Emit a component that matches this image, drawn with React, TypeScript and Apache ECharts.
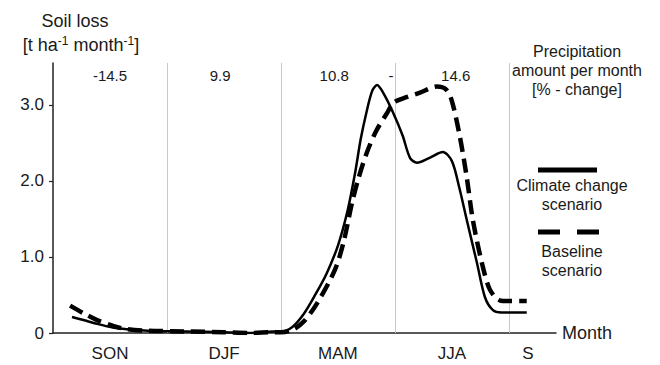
import React, { useEffect, useRef } from "react";
import * as echarts from "echarts";

// months since 1 September
const climateMonths = [0.5, 0.8, 1.16, 1.6, 1.95, 2.5, 3.5, 4.5, 5.2, 5.8, 6.0, 6.3, 6.6, 6.9, 7.2, 7.5, 7.75, 7.95, 8.1, 8.25, 8.4, 8.53, 8.7, 8.95, 9.2, 9.4, 9.58, 9.9, 10.26, 10.5, 10.7, 10.89, 11.16, 11.37, 11.58, 11.8, 12.0, 12.47];
const climateValues = [0.21, 0.17, 0.12, 0.07, 0.05, 0.03, 0.02, 0.01, 0.0, 0.02, 0.02, 0.08, 0.25, 0.5, 0.78, 1.15, 1.6, 2.1, 2.55, 2.9, 3.18, 3.26, 3.15, 2.9, 2.6, 2.3, 2.24, 2.3, 2.38, 2.26, 1.9, 1.49, 0.92, 0.47, 0.3, 0.27, 0.27, 0.27];

const baselineMonths = [0.45, 0.8, 1.16, 1.6, 1.95, 2.5, 3.5, 4.5, 5.2, 5.8, 6.0, 6.3, 6.6, 6.95, 7.42, 7.65, 7.87, 8.05, 8.26, 8.5, 8.79, 8.97, 9.3, 9.66, 10.1, 10.35, 10.5, 10.71, 10.89, 11.05, 11.29, 11.5, 11.76, 12.0, 12.47];
const baselineValues = [0.36, 0.26, 0.17, 0.09, 0.05, 0.03, 0.02, 0.01, 0.0, 0.01, 0.01, 0.04, 0.15, 0.39, 0.83, 1.2, 1.71, 2.05, 2.37, 2.65, 2.89, 3.03, 3.1, 3.16, 3.24, 3.2, 3.05, 2.58, 2.05, 1.49, 0.92, 0.57, 0.43, 0.42, 0.42];

const seasonBoundaries = [3, 6, 9, 12];
const seasonPositions = [1.5, 4.5, 7.5, 10.5, 12.5];
const seasonLabels = ["SON", "DJF", "MAM", "JJA", "S"];
const precipPositions = [1.5, 4.4, 7.4, 8.9, 10.6];
const precipLabels = ["-14.5", "9.9", "10.8", "-", "14.6"];
const yTicks = [0, 1, 2, 3];

const X_MAX = 13.24;
const Y_MAX = 3.55;
const FONT = "'Liberation Sans', Arial, Helvetica, sans-serif";
const TXT = "#1a1a1a";

function lookup(positions: number[], labels: string[], v: number) {
  for (let i = 0; i < positions.length; i++) {
    if (Math.abs(positions[i] - v) < 1e-6) return labels[i];
  }
  return "";
}

export default function App() {
  const ref = useRef<HTMLDivElement>(null);
  useEffect(() => {
    document.body.style.margin = "0";
    if (!ref.current) return;
    const chart = echarts.init(ref.current, undefined, { renderer: "svg" });
    const option: any = {
      animation: false,
      backgroundColor: "#ffffff",
      textStyle: { fontFamily: FONT },
      grid: { left: 53, right: 104, top: 63, bottom: 32, containLabel: false, outerBoundsMode: "none" },
      xAxis: [
        {
          type: "value",
          min: 0,
          max: X_MAX,
          position: "bottom",
          axisLine: { show: true, lineStyle: { color: "#222", width: 1.5 } },
          axisTick: { show: false },
          axisLabel: { show: false },
          splitLine: { show: false },
          name: "Month",
          nameLocation: "end",
          nameGap: 6,
          nameTextStyle: { fontSize: 18, color: TXT, fontFamily: FONT, verticalAlign: "middle" },
        },
        {
          type: "value",
          min: 0,
          max: X_MAX,
          position: "bottom",
          axisLine: { show: false },
          axisTick: { show: false },
          splitLine: { show: false },
          axisLabel: {
            customValues: seasonPositions,
            formatter: (v: number) => lookup(seasonPositions, seasonLabels, v),
            fontSize: 17,
            color: TXT,
            fontFamily: FONT,
            margin: 12,
          },
        },
        {
          type: "value",
          min: 0,
          max: X_MAX,
          position: "top",
          axisLine: { show: false },
          axisTick: { show: false },
          splitLine: { show: false },
          axisLabel: {
            inside: true,
            customValues: precipPositions,
            formatter: (v: number) => lookup(precipPositions, precipLabels, v),
            fontSize: 15,
            color: TXT,
            fontFamily: FONT,
            margin: 5,
          },
        },
      ],
      yAxis: {
        type: "value",
        min: 0,
        max: Y_MAX,
        axisLine: { show: true, lineStyle: { color: "#222", width: 1.5 } },
        axisTick: { show: true, customValues: yTicks, length: 4, lineStyle: { color: "#222", width: 1.2 } },
        splitLine: { show: false },
        axisLabel: {
          customValues: yTicks,
          formatter: (v: number) => (v === 0 ? "0" : v.toFixed(1)),
          fontSize: 17,
          color: TXT,
          fontFamily: FONT,
          margin: 9,
        },
      },
      series: [
        {
          type: "line",
          name: "Climate change scenario",
          xAxisIndex: 0,
          data: climateMonths.map((m, i) => [m, climateValues[i]]),
          showSymbol: false,
          smooth: 0.3,
          lineStyle: { color: "#000", width: 2.5, type: "solid" },
          markLine: {
            silent: true,
            symbol: "none",
            label: { show: false },
            lineStyle: { color: "#c8c8c8", width: 1, type: "solid" },
            data: seasonBoundaries.map((v) => ({ xAxis: v })),
            z: 1,
          },
          z: 3,
        },
        {
          type: "line",
          name: "Baseline scenario",
          xAxisIndex: 0,
          data: baselineMonths.map((m, i) => [m, baselineValues[i]]),
          showSymbol: false,
          smooth: 0.3,
          lineStyle: { color: "#000", width: 4.5, type: [14, 7] },
          z: 4,
        },
      ],
      graphic: [
        { type: "text", x: 75, y: 21, style: { text: "Soil loss", fontSize: 18, fill: TXT, fontFamily: FONT, align: "center", verticalAlign: "middle" } },
        {
          type: "text",
          x: 81,
          y: 45,
          style: {
            text: "[t ha{s|-1} month{s|-1}]",
            fontSize: 18,
            fill: TXT,
            fontFamily: FONT,
            align: "center",
            verticalAlign: "middle",
            rich: { s: { fontSize: 12, fill: TXT, fontFamily: FONT, verticalAlign: "top", padding: [0, 0, 9, 0] } },
          },
        },
        { type: "text", x: 577, y: 51, style: { text: "Precipitation", fontSize: 16, fill: TXT, fontFamily: FONT, align: "center", verticalAlign: "middle" } },
        { type: "text", x: 577, y: 70, style: { text: "amount per month", fontSize: 16, fill: TXT, fontFamily: FONT, align: "center", verticalAlign: "middle" } },
        { type: "text", x: 577, y: 89, style: { text: "[% - change]", fontSize: 16, fill: TXT, fontFamily: FONT, align: "center", verticalAlign: "middle" } },
        { type: "line", shape: { x1: 538, y1: 170, x2: 597, y2: 170 }, style: { stroke: "#000", lineWidth: 5 } },
        { type: "text", x: 572, y: 185, style: { text: "Climate change", fontSize: 16, fill: TXT, fontFamily: FONT, align: "center", verticalAlign: "middle" } },
        { type: "text", x: 572, y: 204, style: { text: "scenario", fontSize: 16, fill: TXT, fontFamily: FONT, align: "center", verticalAlign: "middle" } },
        { type: "line", shape: { x1: 538, y1: 232, x2: 599, y2: 232 }, style: { stroke: "#000", lineWidth: 5, lineDash: [22, 17] } },
        { type: "text", x: 572, y: 251, style: { text: "Baseline", fontSize: 16, fill: TXT, fontFamily: FONT, align: "center", verticalAlign: "middle" } },
        { type: "text", x: 572, y: 270, style: { text: "scenario", fontSize: 16, fill: TXT, fontFamily: FONT, align: "center", verticalAlign: "middle" } },
      ],
    };
    chart.setOption(option);
    return () => chart.dispose();
  }, []);
  return <div ref={ref} style={{ width: 660, height: 365 }} />;
}
